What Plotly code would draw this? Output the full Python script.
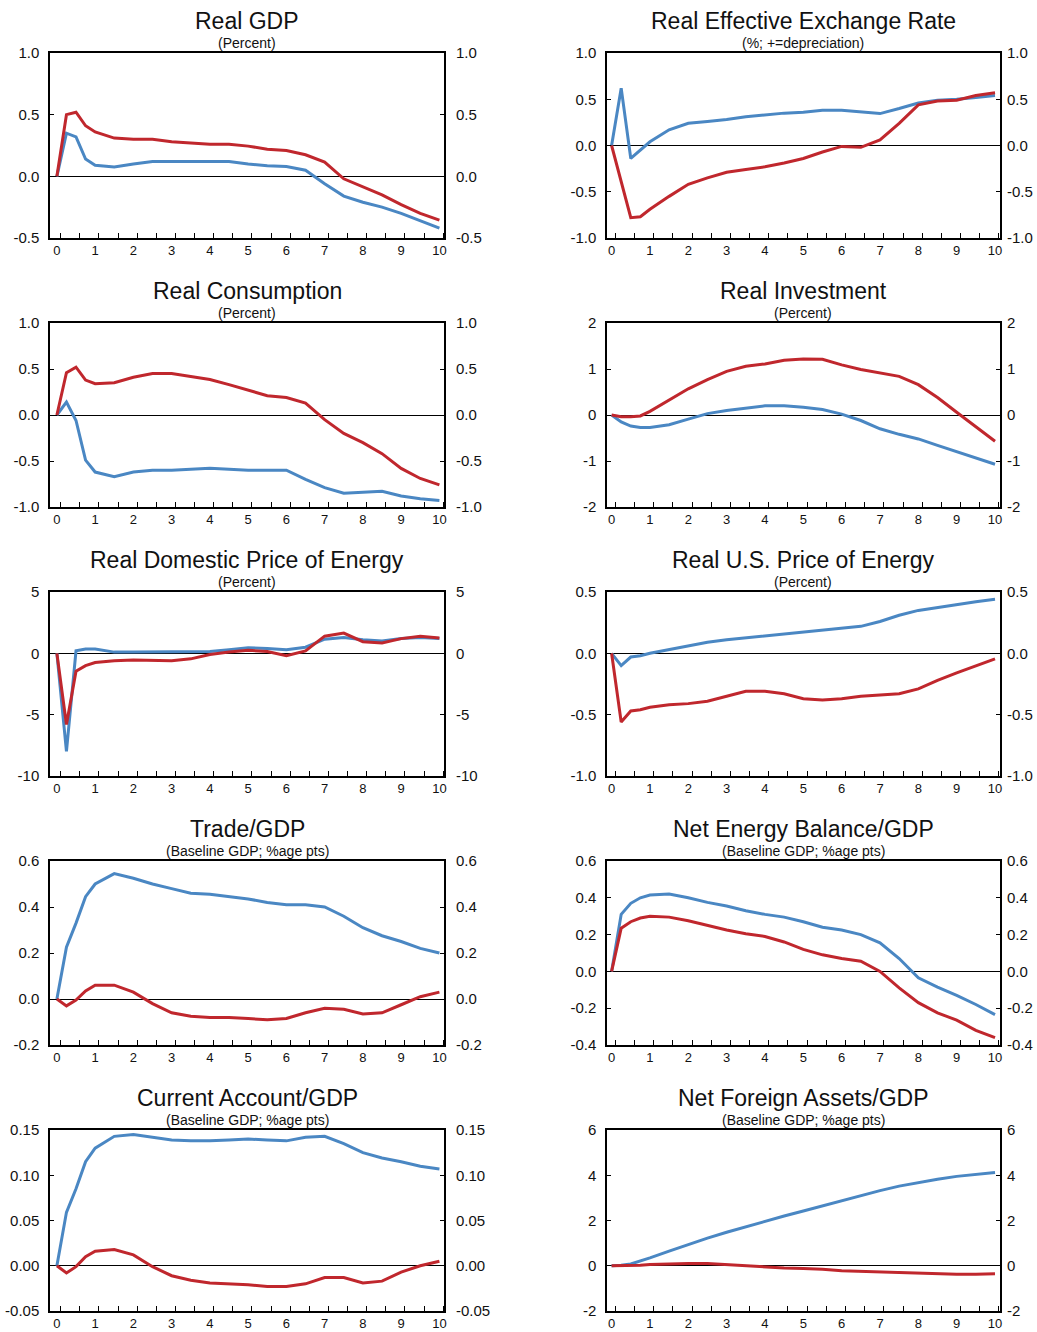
import plotly.graph_objects as go

# ---------------- data ----------------
X = [0, 0.25, 0.5, 0.75, 1, 1.5, 2, 2.5, 3, 3.5, 4, 4.5, 5, 5.5, 6, 6.5, 7, 7.5, 8, 8.5, 9, 9.5, 10]

gdp_blue = [0, 0.35, 0.32, 0.14, 0.09, 0.075, 0.10, 0.12, 0.12, 0.12, 0.12, 0.12, 0.10, 0.085, 0.08, 0.05, -0.06, -0.16, -0.21, -0.25, -0.30, -0.36, -0.42]
gdp_red = [0, 0.50, 0.52, 0.41, 0.36, 0.31, 0.30, 0.30, 0.28, 0.27, 0.26, 0.26, 0.245, 0.22, 0.21, 0.175, 0.115, -0.02, -0.085, -0.15, -0.23, -0.30, -0.355]

reer_blue = [0, 0.62, -0.14, -0.05, 0.04, 0.17, 0.24, 0.26, 0.28, 0.31, 0.33, 0.35, 0.36, 0.38, 0.38, 0.36, 0.345, 0.40, 0.46, 0.49, 0.50, 0.52, 0.54]
reer_red = [0, -0.39, -0.78, -0.77, -0.69, -0.55, -0.42, -0.35, -0.29, -0.26, -0.23, -0.19, -0.14, -0.07, -0.01, -0.02, 0.06, 0.24, 0.44, 0.48, 0.49, 0.54, 0.57]

cons_blue = [0, 0.14, -0.06, -0.49, -0.62, -0.67, -0.62, -0.60, -0.60, -0.59, -0.58, -0.59, -0.60, -0.60, -0.60, -0.70, -0.79, -0.85, -0.84, -0.83, -0.88, -0.91, -0.93]
cons_red = [0, 0.46, 0.52, 0.38, 0.34, 0.35, 0.41, 0.45, 0.45, 0.42, 0.385, 0.33, 0.27, 0.21, 0.19, 0.13, -0.05, -0.20, -0.30, -0.42, -0.58, -0.69, -0.76]

inv_blue = [0, -0.15, -0.24, -0.27, -0.27, -0.21, -0.09, 0.03, 0.10, 0.15, 0.20, 0.20, 0.17, 0.12, 0.02, -0.12, -0.30, -0.42, -0.52, -0.66, -0.80, -0.94, -1.07]
inv_red = [0, -0.04, -0.04, -0.02, 0.08, 0.32, 0.57, 0.77, 0.95, 1.06, 1.11, 1.19, 1.22, 1.21, 1.09, 0.99, 0.91, 0.84, 0.66, 0.38, 0.06, -0.26, -0.57]

dom_blue = [0, -8.0, 0.2, 0.35, 0.35, 0.1, 0.1, 0.1, 0.15, 0.15, 0.15, 0.3, 0.45, 0.4, 0.3, 0.5, 1.15, 1.3, 1.1, 1.0, 1.2, 1.3, 1.2]
dom_red = [0, -5.8, -1.45, -1.0, -0.75, -0.6, -0.55, -0.55, -0.6, -0.45, -0.1, 0.1, 0.25, 0.15, -0.2, 0.2, 1.4, 1.65, 0.95, 0.85, 1.2, 1.4, 1.25]

us_blue = [0, -0.10, -0.03, -0.02, 0.0, 0.03, 0.065, 0.09, 0.11, 0.125, 0.14, 0.155, 0.17, 0.19, 0.205, 0.22, 0.26, 0.31, 0.35, 0.375, 0.395, 0.42, 0.44]
us_red = [0, -0.56, -0.47, -0.46, -0.44, -0.42, -0.41, -0.39, -0.35, -0.31, -0.31, -0.33, -0.37, -0.38, -0.37, -0.35, -0.34, -0.33, -0.29, -0.22, -0.16, -0.10, -0.045]

trade_blue = [0, 0.225, 0.33, 0.445, 0.50, 0.545, 0.525, 0.50, 0.48, 0.46, 0.455, 0.445, 0.435, 0.42, 0.41, 0.41, 0.40, 0.36, 0.31, 0.275, 0.25, 0.22, 0.20]
trade_red = [0, -0.03, -0.005, 0.035, 0.06, 0.06, 0.03, -0.02, -0.06, -0.075, -0.08, -0.08, -0.085, -0.09, -0.085, -0.06, -0.04, -0.045, -0.065, -0.06, -0.025, 0.01, 0.03]

neb_blue = [0, 0.31, 0.37, 0.40, 0.415, 0.42, 0.40, 0.375, 0.355, 0.33, 0.31, 0.295, 0.27, 0.24, 0.225, 0.20, 0.155, 0.07, -0.035, -0.085, -0.13, -0.18, -0.235]
neb_red = [0, 0.235, 0.27, 0.29, 0.30, 0.295, 0.275, 0.25, 0.225, 0.205, 0.19, 0.16, 0.12, 0.09, 0.07, 0.055, 0.0, -0.09, -0.17, -0.225, -0.265, -0.32, -0.36]

ca_blue = [0, 0.059, 0.085, 0.115, 0.13, 0.143, 0.145, 0.142, 0.139, 0.138, 0.138, 0.139, 0.14, 0.139, 0.138, 0.142, 0.143, 0.135, 0.125, 0.119, 0.115, 0.11, 0.107]
ca_red = [0, -0.008, -0.001, 0.01, 0.016, 0.018, 0.012, -0.001, -0.011, -0.016, -0.019, -0.02, -0.021, -0.023, -0.023, -0.02, -0.013, -0.013, -0.019, -0.017, -0.007, 0.0, 0.005]

nfa_blue = [0, 0.02, 0.08, 0.2, 0.35, 0.65, 0.95, 1.22, 1.48, 1.72, 1.98, 2.2, 2.42, 2.65, 2.88, 3.1, 3.32, 3.52, 3.68, 3.82, 3.95, 4.05, 4.12]
nfa_red = [0, 0, 0, 0.02, 0.05, 0.08, 0.1, 0.1, 0.05, -0.02, -0.05, -0.1, -0.12, -0.15, -0.22, -0.25, -0.27, -0.3, -0.32, -0.35, -0.38, -0.38, -0.35]

titles = ["Real GDP", "Real Effective Exchange Rate", "Real Consumption", "Real Investment",
          "Real Domestic Price of Energy", "Real U.S. Price of Energy", "Trade/GDP",
          "Net Energy Balance/GDP", "Current Account/GDP", "Net Foreign Assets/GDP"]
subtitles = ["(Percent)", "(%; +=depreciation)", "(Percent)", "(Percent)", "(Percent)", "(Percent)",
             "(Baseline GDP; %age pts)", "(Baseline GDP; %age pts)",
             "(Baseline GDP; %age pts)", "(Baseline GDP; %age pts)"]
blue_series = [gdp_blue, reer_blue, cons_blue, inv_blue, dom_blue, us_blue, trade_blue, neb_blue, ca_blue, nfa_blue]
red_series = [gdp_red, reer_red, cons_red, inv_red, dom_red, us_red, trade_red, neb_red, ca_red, nfa_red]
y_ticks = [[-0.5, 0, 0.5, 1.0], [-1.0, -0.5, 0, 0.5, 1.0], [-1.0, -0.5, 0, 0.5, 1.0], [-2, -1, 0, 1, 2],
           [-10, -5, 0, 5], [-1.0, -0.5, 0, 0.5], [-0.2, 0, 0.2, 0.4, 0.6], [-0.4, -0.2, 0, 0.2, 0.4, 0.6],
           [-0.05, 0, 0.05, 0.10, 0.15], [-2, 0, 2, 4, 6]]
y_labels = [["-0.5", "0.0", "0.5", "1.0"], ["-1.0", "-0.5", "0.0", "0.5", "1.0"],
            ["-1.0", "-0.5", "0.0", "0.5", "1.0"], ["-2", "-1", "0", "1", "2"],
            ["-10", "-5", "0", "5"], ["-1.0", "-0.5", "0.0", "0.5"],
            ["-0.2", "0.0", "0.2", "0.4", "0.6"], ["-0.4", "-0.2", "0.0", "0.2", "0.4", "0.6"],
            ["-0.05", "0.00", "0.05", "0.10", "0.15"], ["-2", "0", "2", "4", "6"]]
x_ticks = list(range(0, 11))

BLUE = "#4A87C3"
RED = "#C0272D"
INK = "#111111"
FONT = "Arial, Liberation Sans, sans-serif"

# ---------------- layout geometry (pixels) ----------------
W, H = 1037, 1332
row_top = [53, 323, 592, 861, 1130]
row_bot = [238, 507, 776, 1045, 1311]
col_left = [50, 607]
col_right = [444, 1000]
col_xrange = [[-0.18, 10.12], [-0.12, 10.13]]
right_standoff = [11, 6]

fig = go.Figure()
layout = dict(width=W, height=H, margin=dict(l=0, r=0, t=0, b=0, autoexpand=False),
              paper_bgcolor="white", plot_bgcolor="white", showlegend=False,
              font=dict(family=FONT, color=INK))
annotations = []

for i in range(10):
    r, c = i // 2, i % 2
    n = i + 1
    xd = [col_left[c] / W, col_right[c] / W]
    yd = [1 - row_bot[r] / H, 1 - row_top[r] / H]
    ticks = y_ticks[i]
    yr = [ticks[0], ticks[-1]]
    sfx = "" if n == 1 else str(n)
    rs = str(10 + n)

    layout["xaxis" + sfx] = dict(
        domain=xd, anchor="y" + sfx, range=col_xrange[c], automargin=False,
        tickmode="array", tickvals=x_ticks, ticks="", ticklabelstandoff=0,
        tickfont=dict(size=13, family=FONT, color=INK),
        showline=True, mirror=True, linecolor="black", linewidth=1.5,
        showgrid=False, zeroline=False,
        minor=dict(ticks="inside", tick0=0.1, dtick=0.5, ticklen=5, tickwidth=1.2, tickcolor="black", showgrid=False),
    )
    layout["yaxis" + sfx] = dict(
        domain=yd, anchor="x" + sfx, range=yr, autorange=False, automargin=False,
        tickmode="array", tickvals=ticks, ticktext=y_labels[i],
        ticks="inside", ticklen=4, tickwidth=1.2, tickcolor="black", ticklabelstandoff=6,
        tickfont=dict(size=15, family=FONT, color=INK),
        showline=True, mirror=True, linecolor="black", linewidth=1.5,
        showgrid=False, zeroline=True, zerolinecolor="black", zerolinewidth=1.3,
    )
    layout["yaxis" + rs] = dict(
        domain=yd, anchor="x" + sfx, overlaying="y" + sfx, side="right",
        range=yr, autorange=False, automargin=False,
        tickmode="array", tickvals=ticks, ticktext=y_labels[i],
        ticks="inside", ticklen=4, tickwidth=1.2, tickcolor="black", ticklabelstandoff=right_standoff[c],
        tickfont=dict(size=15, family=FONT, color=INK),
        showline=False, showgrid=False, zeroline=False,
    )
    # invisible carrier so that the right-hand axis is drawn
    fig.add_trace(go.Scatter(x=X, y=blue_series[i], mode="lines", line=dict(color="rgba(0,0,0,0)", width=0),
                             hoverinfo="skip", xaxis="x" + sfx, yaxis="y" + rs))
    fig.add_trace(go.Scatter(x=X, y=blue_series[i], mode="lines", line=dict(color=BLUE, width=3),
                             xaxis="x" + sfx, yaxis="y" + sfx))
    fig.add_trace(go.Scatter(x=X, y=red_series[i], mode="lines", line=dict(color=RED, width=3),
                             xaxis="x" + sfx, yaxis="y" + sfx))
    cx = (xd[0] + xd[1]) / 2
    annotations.append(dict(text=titles[i], x=cx, y=1 - (row_top[r] - 32) / H, xref="paper", yref="paper",
                            xanchor="center", yanchor="middle", showarrow=False,
                            font=dict(size=23, family=FONT, color=INK)))
    annotations.append(dict(text=subtitles[i], x=cx, y=1 - (row_top[r] - 10) / H, xref="paper", yref="paper",
                            xanchor="center", yanchor="middle", showarrow=False,
                            font=dict(size=14, family=FONT, color=INK)))

layout["annotations"] = annotations
fig.update_layout(**layout)
fig.write_html("out.html", config={"displayModeBar": False},
               post_script="document.body.style.margin='0';document.body.style.overflow='hidden';")
